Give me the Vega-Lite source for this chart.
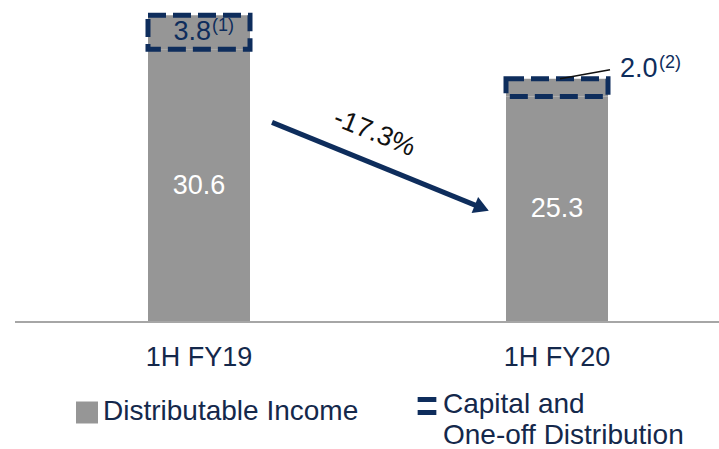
{
  "$schema": "https://vega.github.io/schema/vega-lite/v6.json",
  "width": 704,
  "height": 312,
  "autosize": {"type": "none"},
  "padding": {"left": 15, "top": 10, "right": 0, "bottom": 127},
  "config": {
    "view": {"stroke": null},
    "font": "Liberation Sans",
    "axis": {"grid": false}
  },
  "datasets": {
    "bars": [
      {"period": "1H FY19", "segment": "Distributable Income", "start": 0, "end": 30.6, "label": "30.6", "note": ""},
      {"period": "1H FY19", "segment": "Capital and One-off Distribution", "start": 30.6, "end": 34.4, "label": "3.8", "note": "(1)"},
      {"period": "1H FY20", "segment": "Distributable Income", "start": 0, "end": 25.3, "label": "25.3", "note": ""},
      {"period": "1H FY20", "segment": "Capital and One-off Distribution", "start": 25.3, "end": 27.3, "label": "2.0", "note": "(2)"}
    ],
    "change": [
      {"from": "1H FY19", "to": "1H FY20", "y_from": 22.4, "y_to": 12.8, "y_label": 21.2, "label": "-17.3%"}
    ]
  },
  "layer": [
    {
      "data": {"name": "bars"},
      "transform": [{"filter": "datum.segment == 'Distributable Income'"}],
      "mark": {"type": "bar", "width": 102},
      "encoding": {
        "x": {"field": "period", "type": "nominal", "title": null, "sort": null,
              "scale": {"domain": ["1H FY19", "1H FY20"], "range": [5, 721], "paddingInner": 0, "paddingOuter": 0},
              "axis": {"domain": false, "ticks": false, "labelAngle": 0, "labelFontSize": 27, "labelColor": "#14284B", "labelPadding": 22, "labelFont": "Liberation Sans"}},
        "y": {"field": "start", "type": "quantitative", "scale": {"domain": [0, 35], "nice": false}, "axis": null},
        "y2": {"field": "end"},
        "color": {"field": "segment", "type": "nominal",
                  "scale": {"domain": ["Distributable Income", "Capital and One-off Distribution"], "range": ["#969696", "#969696"]},
                  "legend": {
                    "orient": "none", "legendX": 58, "legendY": 391, "direction": "horizontal", "columns": 2,
                    "title": null, "labelFontSize": 28, "labelColor": "#14284B", "labelFont": "Liberation Sans",
                    "symbolSize": 484, "labelOffset": 2, "columnPadding": 48, "padding": 0, "labelLimit": 400,
                    "labelBaseline": "top", "symbolType": "square",
                    "labelExpr": "datum.label == 'Capital and One-off Distribution' ? ['Capital and', 'One-off Distribution'] : [datum.label, ' ']",
                    "encode": {
                      "symbols": {"update": {
                        "shape": {"signal": "datum.value == 'Distributable Income' ? 'square' : 'M-0.85,-0.6H0.85M-0.85,0.6H0.85'"},
                        "fill": {"signal": "datum.value == 'Distributable Income' ? '#969696' : 'transparent'"},
                        "stroke": {"signal": "datum.value == 'Distributable Income' ? 'transparent' : '#0E2D5C'"},
                        "strokeWidth": {"signal": "datum.value == 'Distributable Income' ? 0 : 5"},
                        "y": {"signal": "datum.value == 'Distributable Income' ? 11 : 5"},
                        "opacity": {"value": 1}
                      }},
                      "labels": {"update": {
                        "y": {"signal": "datum.value == 'Distributable Income' ? -4 : -10"},
                        "dy": {"value": 0},
                        "lineHeight": {"signal": "datum.value == 'Distributable Income' ? 24 : 31"}
                      }}
                    }
                  }}
      }
    },
    {
      "data": {"name": "bars"},
      "transform": [{"filter": "datum.segment != 'Distributable Income'"}],
      "mark": {"type": "bar", "width": 102, "stroke": "#0E2D5C", "strokeWidth": 5, "strokeDash": [18, 7]},
      "encoding": {
        "x": {"field": "period", "type": "nominal", "title": null, "sort": null},
        "y": {"field": "start", "type": "quantitative"},
        "y2": {"field": "end"},
        "color": {"field": "segment", "type": "nominal"}
      }
    },
    {
      "data": {"values": [{}]},
      "mark": {"type": "rule", "color": "#A6A6A6", "strokeWidth": 2},
      "encoding": {"y": {"datum": 0, "type": "quantitative"}}
    },
    {
      "data": {"name": "bars"},
      "transform": [
        {"filter": "datum.segment == 'Distributable Income'"},
        {"calculate": "(datum.start + datum.end) / 2", "as": "mid"}
      ],
      "mark": {"type": "text", "fontSize": 27, "color": "white", "baseline": "middle", "font": "Liberation Sans"},
      "encoding": {
        "x": {"field": "period", "type": "nominal", "title": null, "sort": null},
        "y": {"field": "mid", "type": "quantitative"},
        "text": {"field": "label"}
      }
    },
    {
      "data": {"name": "bars"},
      "transform": [
        {"filter": "datum.segment != 'Distributable Income' && datum.period == '1H FY19'"},
        {"calculate": "(datum.start + datum.end) / 2", "as": "mid"}
      ],
      "layer": [
        {
          "mark": {"type": "text", "fontSize": 27, "color": "#0E2D5C", "baseline": "middle", "align": "right", "dx": 12, "font": "Liberation Sans"},
          "encoding": {
            "x": {"field": "period", "type": "nominal", "title": null, "sort": null},
            "y": {"field": "mid", "type": "quantitative"},
            "text": {"field": "label"}
          }
        },
        {
          "mark": {"type": "text", "fontSize": 18, "color": "#0E2D5C", "baseline": "middle", "align": "left", "dx": 13, "dy": -6, "font": "Liberation Sans"},
          "encoding": {
            "x": {"field": "period", "type": "nominal", "title": null, "sort": null},
            "y": {"field": "mid", "type": "quantitative"},
            "text": {"field": "note"}
          }
        }
      ]
    },
    {
      "data": {"name": "bars"},
      "transform": [
        {"filter": "datum.segment != 'Distributable Income' && datum.period == '1H FY20'"}
      ],
      "layer": [
        {
          "mark": {"type": "rule", "color": "#111111", "strokeWidth": 1.5, "xOffset": 3, "x2Offset": 53, "y2Offset": -9},
          "encoding": {
            "x": {"field": "period", "type": "nominal", "title": null, "sort": null},
            "x2": {"field": "period"},
            "y": {"field": "end", "type": "quantitative"},
            "y2": {"field": "end"}
          }
        },
        {
          "mark": {"type": "text", "fontSize": 27, "color": "#0E2D5C", "baseline": "middle", "align": "left", "dx": 63, "dy": -10, "font": "Liberation Sans"},
          "encoding": {
            "x": {"field": "period", "type": "nominal", "title": null, "sort": null},
            "y": {"field": "end", "type": "quantitative"},
            "text": {"field": "label"}
          }
        },
        {
          "mark": {"type": "text", "fontSize": 18, "color": "#0E2D5C", "baseline": "middle", "align": "left", "dx": 102, "dy": -16, "font": "Liberation Sans"},
          "encoding": {
            "x": {"field": "period", "type": "nominal", "title": null, "sort": null},
            "y": {"field": "end", "type": "quantitative"},
            "text": {"field": "note"}
          }
        }
      ]
    },
    {
      "data": {"name": "change"},
      "layer": [
        {
          "mark": {"type": "rule", "color": "#0E2D5C", "strokeWidth": 5},
          "encoding": {
            "x": {"field": "from", "type": "nominal", "title": null, "bandPosition": 0.704},
            "x2": {"field": "to", "bandPosition": 0.29},
            "y": {"field": "y_from", "type": "quantitative"},
            "y2": {"field": "y_to"}
          }
        },
        {
          "mark": {"type": "point", "shape": "triangle-right", "filled": true, "color": "#0E2D5C", "size": 300, "angle": 22, "opacity": 1},
          "encoding": {
            "x": {"field": "to", "type": "nominal", "title": null, "bandPosition": 0.29},
            "y": {"field": "y_to", "type": "quantitative"}
          }
        },
        {
          "mark": {"type": "text", "fontSize": 27, "color": "#111111", "angle": 22, "baseline": "middle", "align": "center", "font": "Liberation Sans"},
          "encoding": {
            "x": {"field": "from", "type": "nominal", "title": null, "bandPosition": 0.99},
            "y": {"field": "y_label", "type": "quantitative"},
            "text": {"field": "label"}
          }
        }
      ]
    }
  ]
}
